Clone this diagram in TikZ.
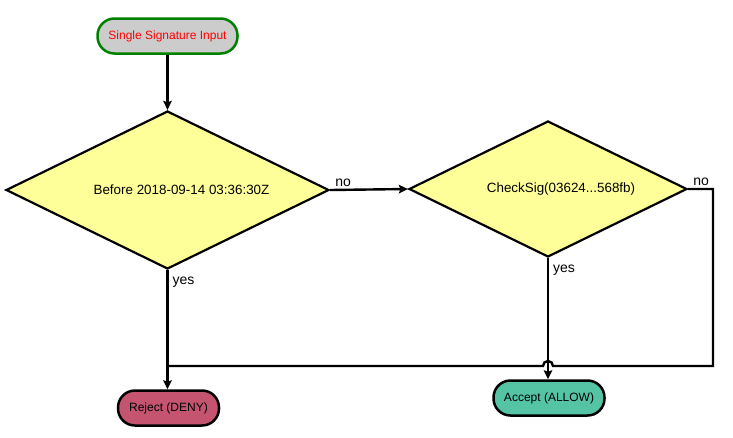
\documentclass[tikz,border=0pt]{standalone}
\usepackage{fontspec}
\setmainfont{Liberation Sans}
\usetikzlibrary{shapes.geometric,arrows.meta}
\definecolor{startfill}{RGB}{204,204,204}
\definecolor{startborder}{RGB}{0,128,0}
\definecolor{decfill}{RGB}{255,255,153}
\definecolor{rejfill}{RGB}{196,84,112}
\definecolor{accfill}{RGB}{84,196,164}
\tikzset{
  term/.style={draw=black, line width=2.5pt, rounded corners=17pt, minimum height=35pt, inner sep=0pt, font=\fontsize{12}{14}\selectfont},
  decision/.style={diamond, shape aspect=2.04, draw=black, line width=2.2pt, fill=decfill, inner sep=0pt, font=\fontsize{13.4}{16}\selectfont},
  conn/.style={line width=2.4pt, draw=black},
  arr/.style={conn, -{Stealth[length=9pt,width=8.5pt,inset=1.5pt]}},
  lbl/.style={font=\fontsize{14}{16}\selectfont, inner sep=1pt}
}
\begin{document}
\begin{tikzpicture}[x=1pt,y=-1pt]
\useasboundingbox (0,0) rectangle (733,437);
\node[term, draw=startborder, fill=startfill, text=red, minimum width=140pt] (start) at (167.5,36) {Single Signature Input};
\node[decision, minimum width=323pt, minimum height=158pt] (d1) at (167.5,190) {\hspace*{28pt}Before 2018-09-14 03:36:30Z};
\node[decision, minimum width=278pt, minimum height=136pt] (d2) at (548,189) {\hspace*{26pt}CheckSig(03624...568fb)};
\node[term, fill=rejfill, minimum width=101pt] (rej) at (168.5,408) {Reject (DENY)};
\node[term, fill=accfill, minimum width=111pt] (acc) at (549,398) {Accept (ALLOW)};
\coordinate (c1) at (713,189);
\coordinate (c2) at (713,366);
\coordinate (hopR) at (553,366);
\coordinate (join) at (167.5,366);
\draw[arr] (start.south) -- (d1.north);
\draw[arr] (d1.east) -- (d2.west) node[lbl, pos=0, anchor=south west, xshift=3pt, yshift=1pt] {no};
\draw[arr] (d1.south) -- (d1.south |- rej.north) node[lbl, pos=0, anchor=north west, xshift=3pt, yshift=-5pt] {yes};
\draw[arr] (d2.south) -- (d2.south |- acc.north) node[lbl, pos=0, anchor=north west, xshift=3pt, yshift=-5pt] {yes};
\draw[conn] (d2.east) -- (c1) node[lbl, pos=0, anchor=south west, xshift=3pt, yshift=1pt] {no} -- (c2) -- (hopR) arc[start angle=0, end angle=180, radius=5pt] -- (join);
\end{tikzpicture}
\end{document}
